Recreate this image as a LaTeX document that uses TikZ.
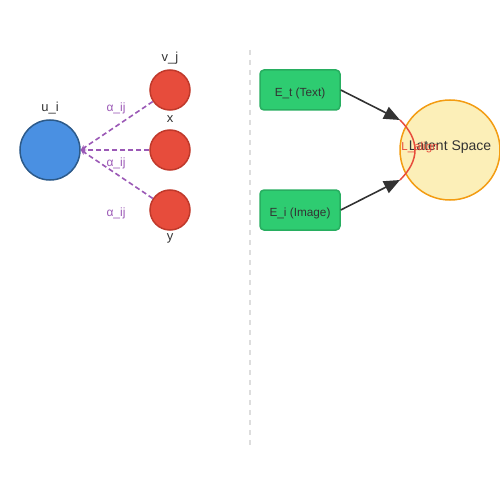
\documentclass[tikz,border=0pt]{standalone}
\usepackage{fontspec}
\setmainfont{Liberation Sans}
\usetikzlibrary{arrows.meta}
\definecolor{userblue}{HTML}{4A90E2}
\definecolor{userline}{HTML}{2C5A8A}
\definecolor{itemred}{HTML}{E74C3C}
\definecolor{itemline}{HTML}{C0392B}
\definecolor{attn}{HTML}{9B59B6}
\definecolor{encgreen}{HTML}{2ECC71}
\definecolor{encline}{HTML}{27AE60}
\definecolor{latfill}{HTML}{FCEFB8}
\definecolor{latline}{HTML}{F39C12}
\definecolor{ink}{HTML}{333333}
\definecolor{sep}{HTML}{DDDDDD}
\tikzset{
x=1pt, y=-1pt, % pixel grid, y downwards
user/.style={circle, draw=userline, fill=userblue, line width=1.5pt, minimum size=60pt, inner sep=0pt},
item/.style={circle, draw=itemline, fill=itemred, line width=1.5pt, minimum size=40pt, inner sep=0pt},
encoder/.style={draw=encline, fill=encgreen, line width=1.5pt, rounded corners=4pt, minimum width=80pt, minimum height=40pt},
latent/.style={circle, draw=latline, fill=latfill, line width=1.5pt, minimum size=100pt, inner sep=0pt},
lbl/.style={anchor=base, inner sep=0pt, text=ink, font=\fontsize{13}{14}\selectfont},
enclbl/.style={anchor=base, inner sep=0pt, text=ink, font=\fontsize{11.8}{13}\selectfont},
attnlbl/.style={anchor=base, inner sep=0pt, text=attn, font=\fontsize{12}{13}\selectfont},
attnedge/.style={draw=attn, dash pattern=on 5pt off 3pt, line width=1.6pt, -{Stealth[length=5pt,width=5pt]}},
mapedge/.style={draw=ink, line width=1.6pt, -{Triangle[length=16pt,width=13pt]}},
}
\begin{document}
\begin{tikzpicture}
	\useasboundingbox (0,0) rectangle (500,500);
	% users and items
	\node[user] (u) at (50,150) {};
	\node[item] (v1) at (170,90) {};
	\node[item] (v2) at (170,150) {};
	\node[item] (v3) at (170,210) {};
	\node[lbl] (ulbl) at (50,112) {u\_i};
	\node[lbl] (vlbl) at (170,62) {v\_j};
	\node[lbl] (xlbl) at (170,122) {x};
	\node[lbl] (ylbl) at (170,240) {y};
	\draw[attnedge] (v1) -- (u.east);
	\draw[attnedge] (v2) -- (u.east);
	\draw[attnedge] (v3) -- (u.east);
	\node[attnlbl] (a1) at (116,111) {α\_ij};
	\node[attnlbl] (a2) at (116,166) {α\_ij};
	\node[attnlbl] (a3) at (116,216) {α\_ij};
	% separator
	\draw[sep, dash pattern=on 5pt off 5pt, line width=1.2pt] (250,50) -- (250,445);
	% encoders and latent space
	\node[encoder] (et) at (300,90) {};
	\node[encoder] (ei) at (300,210) {};
	\node[enclbl] (etlbl) at (300,96) {E\_t (Text)};
	\node[enclbl] (eilbl) at (300,216) {E\_i (Image)};
	\node[latent] (ls) at (450,150) {};
	\node[lbl, font=\fontsize{14}{15}\selectfont] (lslbl) at (450,150) {Latent Space};
	\coordinate (top) at (400,120);
	\coordinate (bot) at (400,180);
	\draw[mapedge] (et.east) -- (top);
	\draw[mapedge] (ei.east) -- (bot);
	\draw[itemred, line width=1.5pt] (top) .. controls (420,140) and (420,160) .. (bot);
	\node[attnlbl, text=itemred, font=\fontsize{11.5}{12}\selectfont] (align) at (420,150) {L\_align};
\end{tikzpicture}
\end{document}
